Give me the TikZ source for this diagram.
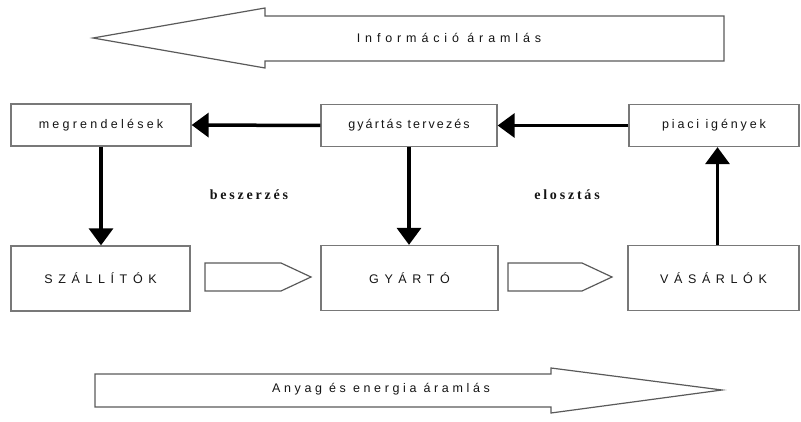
\documentclass[tikz,border=0pt]{standalone}
\usepackage{fontspec}
\setmainfont{Liberation Sans}
\newfontfamily\lblfont{Liberation Serif}
\usetikzlibrary{arrows.meta}
\definecolor{boxgray}{RGB}{120,120,120}
\definecolor{outl}{RGB}{90,90,90}
\definecolor{txt}{RGB}{20,20,20}
\newcommand\lsp[1]{\addfontfeature{LetterSpace=#1}}
\tikzset{
  box/.style={draw=boxgray, line width=1.3pt, fill=white, inner sep=0pt, text=txt,
              font=\fontsize{12.5}{14}\selectfont},
  topbox/.style={box, minimum height=42pt},
  botbox/.style={box, minimum height=65pt},
  flow/.style={line width=3.5pt, -{Triangle[length=17pt,width=24pt]}},
  bigarrow/.style={draw=outl, line width=1.2pt, fill=white, line join=miter},
  arrowtext/.style={inner sep=0pt, text=txt, font=\fontsize{12.5}{14}\selectfont},
  sidelbl/.style={inner sep=0pt, text=txt, font=\lblfont\bfseries\fontsize{14}{16}\selectfont}
}
\begin{document}
\begin{tikzpicture}[x=1pt,y=-1pt]
\useasboundingbox (0,0) rectangle (801,422);

% information flow arrow (top)
\draw[bigarrow] (93,38) -- (265,8) -- (265,16) -- (724,16) -- (724,61) -- (265,61) -- (265,68) -- cycle;
\node[arrowtext] (info) at (449,38) {\lsp{39}Információ áramlás};

% top row
\node[topbox, minimum width=180pt] (megr) at (101,125) {\lsp{26}megrendelések};
\node[topbox, minimum width=176pt] (gyt) at (409,125.5) {\lsp{17}gyártás tervezés};
\node[topbox, minimum width=170pt] (piaci) at (714,125.5) {\lsp{23}piaci igények};

% bottom row
\node[botbox, minimum width=179pt] (szal) at (100.5,278.5) {\lsp{45}SZÁLLÍTÓK};
\node[botbox, minimum width=177pt] (gyarto) at (409.5,278) {\lsp{45}GYÁRTÓ};
\node[botbox, minimum width=171pt] (vas) at (713.5,278) {\lsp{45}VÁSÁRLÓK};

% side labels
\node[sidelbl] (besz) at (249,195) {\lsp{20}beszerzés};
\node[sidelbl] (eloszt) at (567,195) {\lsp{20}elosztás};

% connectors
\draw[flow] (gyt.west) -- (megr.east);
\draw[flow] (piaci.west) -- (gyt.east);
\draw[flow] (megr.south) -- (megr.south |- szal.north);
\draw[flow] (gyt.south) -- (gyt.south |- gyarto.north);
\draw[flow] ([xshift=4pt]vas.north) -- ([xshift=4pt]vas.north |- piaci.south);

% material flow small arrows
\draw[bigarrow] (205,263) -- (281,263) -- (311,277) -- (281,291) -- (205,291) -- cycle;
\draw[bigarrow] (508,263) -- (582,263) -- (612,277) -- (582,291) -- (508,291) -- cycle;

% material and energy flow arrow (bottom)
\draw[bigarrow] (95,374) -- (551,374) -- (551,368) -- (722,390) -- (551,413) -- (551,407) -- (95,407) -- cycle;
\node[arrowtext] (anyag) at (381,389) {\lsp{29}Anyag és energia áramlás};
\end{tikzpicture}
\end{document}
